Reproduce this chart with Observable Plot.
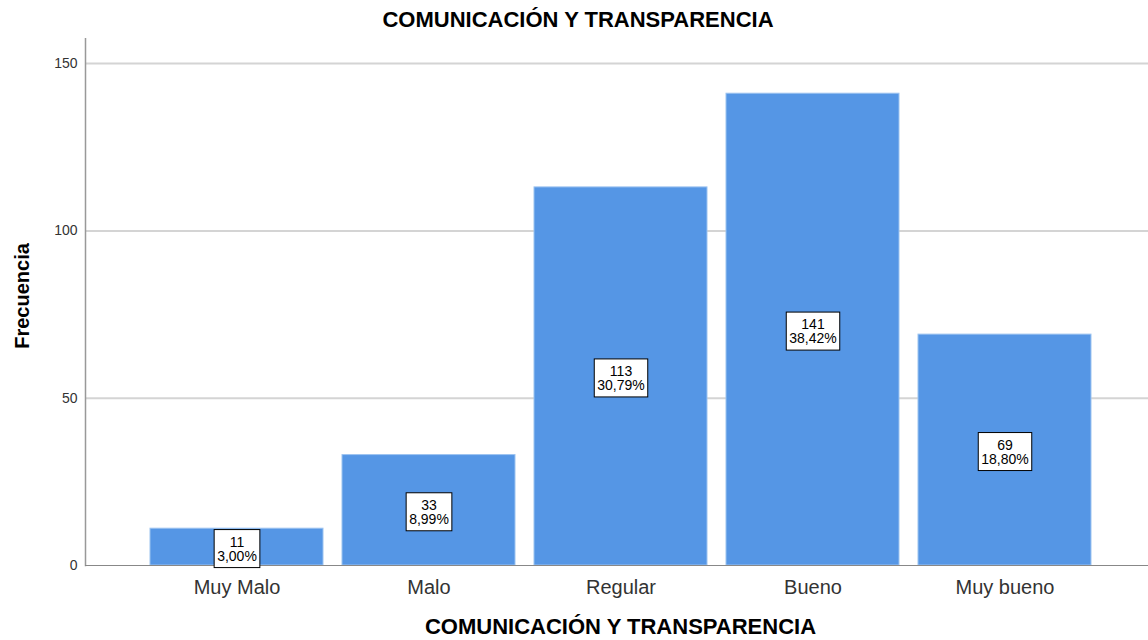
<!DOCTYPE html>
<html>
<head>
<meta charset="utf-8">
<script src="https://cdn.jsdelivr.net/npm/d3@7"></script>
<script src="https://cdn.jsdelivr.net/npm/@observablehq/plot@0.6"></script>
<style>
  html, body { margin: 0; padding: 0; background: white; }
  body { width: 1148px; font-family: "Liberation Sans", Arial, sans-serif; }
  #title { height: 38px; line-height: 40px; font-size: 22px; font-weight: bold; text-align: center; color: #000; padding-left: 8px; box-sizing: border-box; overflow: visible; white-space: nowrap; }
</style>
</head>
<body>
<div id="title">COMUNICACIÓN Y TRANSPARENCIA</div>
<div id="chart"></div>
<script>
const categories = ["Muy Malo", "Malo", "Regular", "Bueno", "Muy bueno"];
const counts = [11, 33, 113, 141, 69];
const percents = ["3,00%", "8,99%", "30,79%", "38,42%", "18,80%"];
const yTicks = [0, 50, 100, 150];
const yLabel = "Frecuencia";
const xLabel = "COMUNICACIÓN Y TRANSPARENCIA";

const data = categories.map((c, i) => ({cat: c, count: counts[i], pct: percents[i]}));

const chart = Plot.plot({
  width: 1148,
  height: 602,
  marginLeft: 85,
  marginRight: 0,
  marginTop: 0,
  marginBottom: 75,
  style: {fontFamily: "'Liberation Sans', Arial, sans-serif", background: "white"},
  x: {domain: categories, paddingInner: 0.101, paddingOuter: 0.308, align: 0.53, label: null},
  y: {domain: [0, 157.5], label: null},
  marks: [
    Plot.gridY([50, 100, 150], {stroke: "#d4d4d4", strokeOpacity: 1, strokeWidth: 2}),
    Plot.barY(data, {x: "cat", y: "count", fill: "#5596e5", stroke: "#9cc3f0", strokeWidth: 1}),
    Plot.frame({anchor: "left", stroke: "#999", strokeWidth: 1.5}),
    Plot.frame({anchor: "bottom", stroke: "#888", strokeWidth: 1}),
    Plot.axisY(yTicks, {tickSize: 0, tickPadding: 8, fontSize: 14, fill: "#333", label: null}),
    Plot.axisX({tickSize: 0, tickPadding: 14, fontSize: 20, fill: "#333", label: null}),
    Plot.text(data, {x: "cat", y: d => d.count / 2, text: d => `${d.count}\n${d.pct}`, fontSize: 14, lineHeight: 1, lineAnchor: "middle", fill: "black", dy: 2}),
    Plot.text([yLabel], {text: d => d, frameAnchor: "left", textAnchor: "middle", dx: -57, dy: -6, rotate: -90, fontSize: 20, fontWeight: "bold", lineAnchor: "bottom", fill: "black"}),
    Plot.text([xLabel], {text: d => d, frameAnchor: "bottom", dx: 3.5, dy: 68, fontSize: 22, fontWeight: "bold", lineAnchor: "bottom", fill: "black"})
  ]
});

document.getElementById("chart").appendChild(chart);

// white boxes with black border behind the bar labels
chart.querySelectorAll("text").forEach(t => {
  if (!t.textContent.includes("%")) return;
  const bb = t.getBBox();
  const padX = 3, padY = 4;
  const r = document.createElementNS("http://www.w3.org/2000/svg", "rect");
  r.setAttribute("x", bb.x - padX);
  r.setAttribute("y", bb.y - padY);
  r.setAttribute("width", bb.width + 2 * padX);
  r.setAttribute("height", bb.height + 2 * padY);
  r.setAttribute("fill", "white");
  r.setAttribute("stroke", "black");
  r.setAttribute("stroke-width", "1");
  const tr = t.getAttribute("transform");
  if (tr) r.setAttribute("transform", tr);
  t.parentNode.insertBefore(r, t);
});
</script>
</body>
</html>
